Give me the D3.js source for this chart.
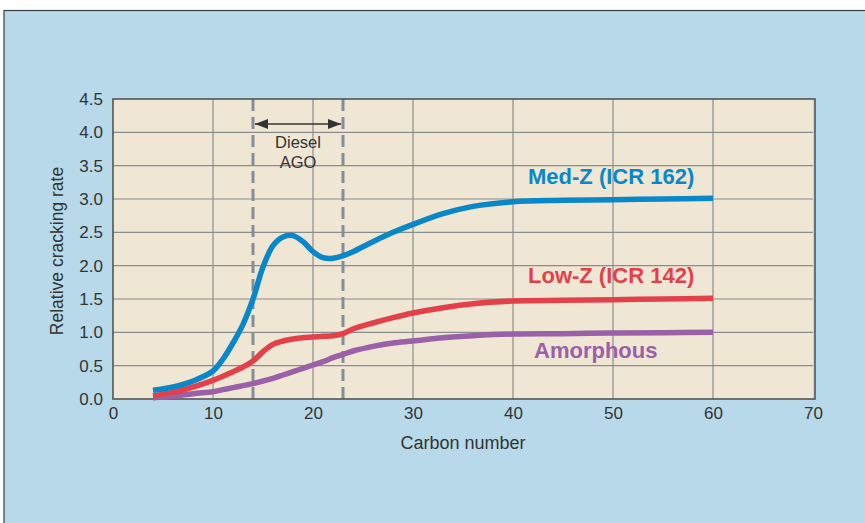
<!DOCTYPE html>
<html>
<head>
<meta charset="utf-8">
<script src="https://cdn.jsdelivr.net/npm/d3@7"></script>
<style>
  html, body { margin: 0; padding: 0; background: #fff; }
  svg { display: block; }
  text { font-family: "Liberation Sans", Arial, sans-serif; }
</style>
</head>
<body>
<svg id="chart" width="865" height="523"></svg>
<script>
// ---- data ----
const carbon = [4,6,8,10,11,12,13,14,15,16,17,18,19,20,21,22,23,24,26,28,30,33,36,40,45,50,55,60];
const medZ   = [0.13,0.18,0.27,0.42,0.6,0.84,1.12,1.5,1.98,2.3,2.43,2.45,2.36,2.21,2.12,2.11,2.15,2.21,2.36,2.5,2.62,2.78,2.89,2.96,2.98,2.99,3.0,3.01];
const lowZ   = [0.05,0.1,0.18,0.28,0.34,0.41,0.48,0.57,0.71,0.82,0.87,0.9,0.92,0.93,0.94,0.95,0.98,1.05,1.14,1.22,1.29,1.37,1.43,1.47,1.48,1.49,1.5,1.51];
const amorph = [0.02,0.04,0.08,0.11,0.14,0.17,0.2,0.23,0.27,0.31,0.36,0.41,0.46,0.51,0.56,0.62,0.67,0.72,0.79,0.84,0.87,0.92,0.95,0.975,0.98,0.99,0.995,1.0];
const seriesNames = ["Med-Z (ICR 162)", "Low-Z (ICR 142)", "Amorphous"];
const xTicks = [0,10,20,30,40,50,60,70];
const yTicks = [0,0.5,1.0,1.5,2.0,2.5,3.0,3.5,4.0,4.5];
const dieselRange = [14, 23];
const dieselLabel = ["Diesel", "AGO"];
const xTitle = "Carbon number";
const yTitle = "Relative cracking rate";

// ---- layout ----
const svg = d3.select("#chart");
const W = 865, H = 523;
const plot = {left: 113, right: 813, top: 99, bottom: 399};
const x = d3.scaleLinear().domain([0, 70]).range([plot.left, plot.right]);
const y = d3.scaleLinear().domain([0, 4.5]).range([plot.bottom, plot.top]);

// outer background panel
svg.append("rect").attr("x", 4).attr("y", 10.5).attr("width", W).attr("height", H)
  .attr("fill", "#b8d9e9").attr("stroke", "#3a3f44").attr("stroke-width", 1.2);

// plot background
svg.append("rect").attr("x", plot.left).attr("y", plot.top)
  .attr("width", plot.right - plot.left).attr("height", plot.bottom - plot.top)
  .attr("fill", "#efe6d4");

// grid
const grid = svg.append("g");
grid.selectAll("line.v").data(xTicks.slice(1, -1)).join("line")
  .attr("x1", d => x(d)).attr("x2", d => x(d))
  .attr("y1", plot.top).attr("y2", plot.bottom)
  .attr("stroke", "#8a8d90").attr("stroke-width", 1.2);
grid.selectAll("line.h").data(yTicks.slice(1, -1)).join("line")
  .attr("y1", d => y(d)).attr("y2", d => y(d))
  .attr("x1", plot.left).attr("x2", plot.right)
  .attr("stroke", "#8a8d90").attr("stroke-width", 1.2);

// axes (labels only)
const xAxis = d3.axisBottom(x).tickValues(xTicks).tickSize(0).tickPadding(8).tickFormat(d3.format("d"));
const gx = svg.append("g").attr("transform", `translate(0,${plot.bottom})`).call(xAxis);
gx.attr("font-size", 17).attr("font-family", "Liberation Sans, Arial, sans-serif");
gx.select(".domain").remove();
gx.selectAll("text").attr("fill", "#333");

const yAxis = d3.axisLeft(y).tickValues(yTicks).tickSize(0).tickPadding(10).tickFormat(d3.format(".1f"));
const gy = svg.append("g").attr("transform", `translate(${plot.left},0)`).call(yAxis);
gy.attr("font-size", 17).attr("font-family", "Liberation Sans, Arial, sans-serif");
gy.select(".domain").remove();
gy.selectAll("text").attr("fill", "#333");

// axis titles
svg.append("text").attr("x", x(35)).attr("y", 449).attr("text-anchor", "middle")
  .attr("font-size", 18).attr("fill", "#333").text(xTitle);
svg.append("text").attr("transform", `translate(63,${(plot.top + plot.bottom) / 2 + 2}) rotate(-90)`)
  .attr("text-anchor", "middle").attr("font-size", 17.5).attr("fill", "#333").text(yTitle);

// diesel dashed lines
svg.selectAll("line.dash").data(dieselRange).join("line")
  .attr("x1", d => x(d)).attr("x2", d => x(d))
  .attr("y1", plot.top).attr("y2", plot.bottom)
  .attr("stroke", "#858e98").attr("stroke-width", 3).attr("stroke-dasharray", "12,6");

// arrow
const defs = svg.append("defs");
defs.append("marker").attr("id", "ah").attr("viewBox", "0 0 13 10").attr("refX", 13).attr("refY", 5)
  .attr("markerWidth", 13).attr("markerHeight", 10).attr("markerUnits", "userSpaceOnUse").attr("orient", "auto-start-reverse")
  .append("path").attr("d", "M0,0 L13,5 L0,10 Z").attr("fill", "#333");
svg.append("line").attr("x1", x(dieselRange[0]) + 2).attr("x2", x(dieselRange[1]) - 2)
  .attr("y1", 124).attr("y2", 124).attr("stroke", "#333").attr("stroke-width", 1.5)
  .attr("marker-start", "url(#ah)").attr("marker-end", "url(#ah)");
const midX = x((dieselRange[0] + dieselRange[1]) / 2);
dieselLabel.forEach((t, i) => {
  svg.append("text").attr("x", midX).attr("y", 148 + i * 19.5).attr("text-anchor", "middle")
    .attr("font-size", 16.5).attr("fill", "#333").text(t);
});

// plot frame
svg.append("rect").attr("x", plot.left).attr("y", plot.top)
  .attr("width", plot.right - plot.left + 2).attr("height", plot.bottom - plot.top)
  .attr("fill", "none").attr("stroke", "#555").attr("stroke-width", 1.6);

// series lines
const colors = ["#0a87c8", "#e3414a", "#9a60a8"];
const seriesVals = [medZ, lowZ, amorph];
const line = d3.line().x(d => x(d[0])).y(d => y(d[1])).curve(d3.curveCatmullRom.alpha(0.5));
[2, 1, 0].forEach(i => {
  const pts = carbon.map((c, j) => [c, seriesVals[i][j]]);
  svg.append("path").attr("d", line(pts)).attr("fill", "none")
    .attr("stroke", colors[i]).attr("stroke-width", 5.5).attr("stroke-linecap", "butt");
});

// series labels
const labelPos = [
  {y: 3.23, x0: 41.5},
  {y: 1.74, x0: 41.5},
  {y: 0.62, x0: 42.1}
];
seriesNames.forEach((n, i) => {
  svg.append("text").attr("x", x(labelPos[i].x0)).attr("y", y(labelPos[i].y))
    .attr("font-size", 22).attr("font-weight", "bold").attr("fill", colors[i]).text(n);
});
</script>
</body>
</html>
